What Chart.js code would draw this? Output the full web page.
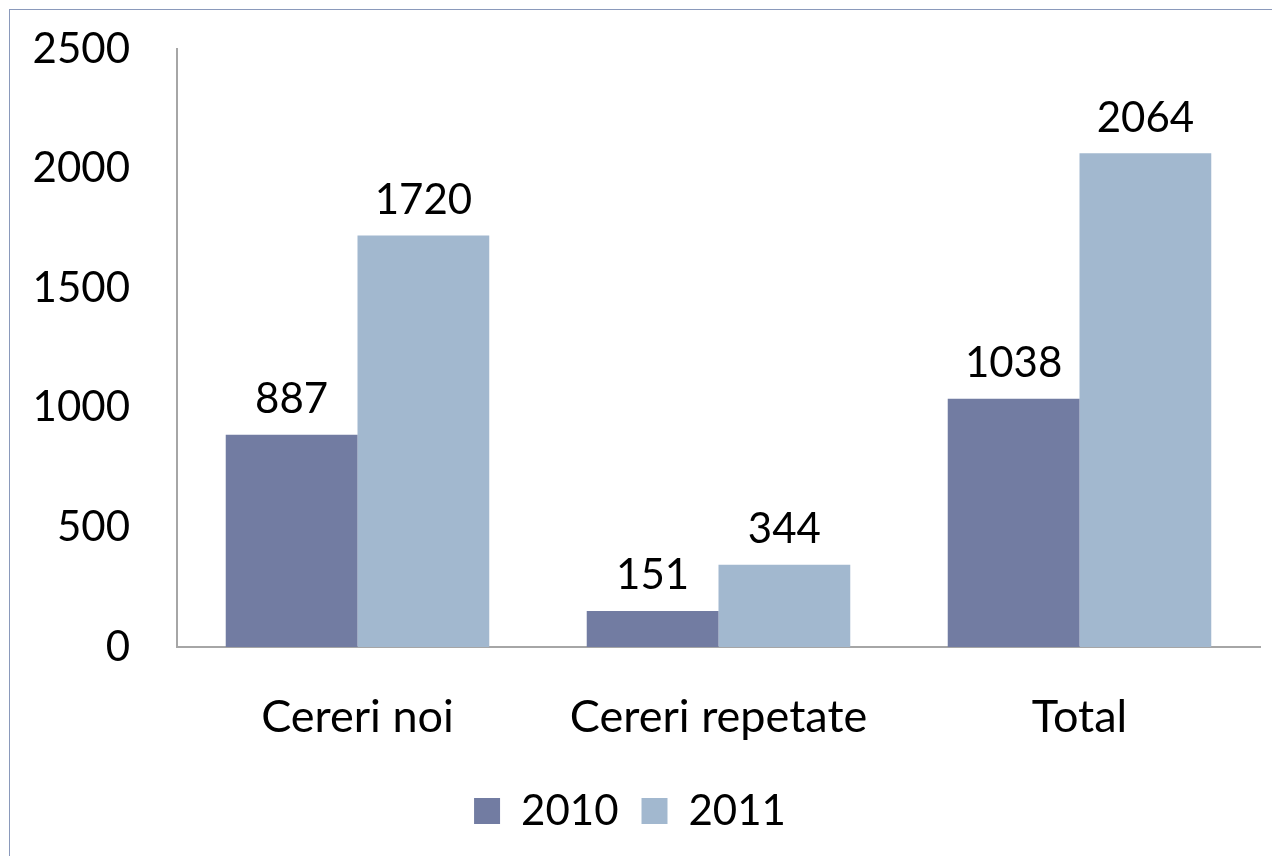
<!DOCTYPE html>
<html>
<head>
<meta charset="utf-8">
<script src="https://cdn.jsdelivr.net/npm/chart.js@4/dist/chart.umd.min.js"></script>
<style>
  html, body { margin: 0; padding: 0; background: #ffffff; overflow: hidden; }
  #wrap { position: relative; width: 1272px; height: 856px; }
  #frame { position: absolute; left: 9px; top: 9px; width: 1300px; height: 900px; border: 1.5px solid #8a99bb; box-sizing: border-box; }
  canvas { position: absolute; left: 0; top: 0; }
</style>
</head>
<body>
<div id="wrap">
  <div id="frame"></div>
  <canvas id="c" width="1272" height="856"></canvas>
</div>
<script>
const categories = ["Cereri noi", "Cereri repetate", "Total"];
const seriesNames = ["2010", "2011"];
const values2010 = [887, 151, 1038];
const values2011 = [1720, 344, 2064];
const yTicks = [0, 500, 1000, 1500, 2000, 2500];

const FONT = "Lato, 'Open Sans', sans-serif";

const barLabels = {
  id: 'barLabels',
  afterDatasetsDraw(chart) {
    const ctx = chart.ctx;
    ctx.save();
    ctx.font = "42px " + FONT;
    ctx.fillStyle = "#000000";
    ctx.textAlign = "center";
    ctx.textBaseline = "bottom";
    chart.data.datasets.forEach((ds, i) => {
      const meta = chart.getDatasetMeta(i);
      meta.data.forEach((bar, j) => {
        ctx.fillText(String(ds.data[j]), bar.x, bar.y - 14);
      });
    });
    ctx.restore();
  }
};

new Chart(document.getElementById('c'), {
  type: 'bar',
  data: {
    labels: categories,
    datasets: [
      { label: seriesNames[0], data: values2010, backgroundColor: '#727ca2', categoryPercentage: 0.73, barPercentage: 1.0 },
      { label: seriesNames[1], data: values2011, backgroundColor: '#a2b8cf', categoryPercentage: 0.73, barPercentage: 1.0 }
    ]
  },
  options: {
    responsive: false,
    maintainAspectRatio: false,
    animation: false,
    devicePixelRatio: 1,
    layout: { padding: { top: 49, right: 12, left: 0, bottom: 14 } },
    plugins: {
      legend: {
        position: 'bottom',
        labels: {
          font: { family: FONT, size: 42 },
          color: '#000000',
          boxWidth: 26,
          boxHeight: 26,
          padding: 23
        }
      },
      tooltip: { enabled: false }
    },
    scales: {
      x: {
        grid: { display: false, drawTicks: false },
        border: { display: true, color: '#a6a6a6', width: 2 },
        ticks: { font: { family: FONT, size: 45 }, color: '#000000', padding: 43 },
        afterFit(scale) { scale.height = 120; scale.paddingLeft = 0; scale.paddingRight = 0; }
      },
      y: {
        min: 0,
        max: 2500,
        afterBuildTicks(scale) { scale.ticks = yTicks.map(v => ({ value: v })); },
        grid: { display: false, drawTicks: false },
        border: { display: true, color: '#a6a6a6', width: 2 },
        ticks: { font: { family: FONT, size: 42 }, color: '#000000', padding: 47, callback: (v) => String(v) },
        afterFit(scale) { scale.width = 177; scale.paddingTop = 0; scale.paddingBottom = 0; }
      }
    }
  },
  plugins: [barLabels]
});
</script>
</body>
</html>
